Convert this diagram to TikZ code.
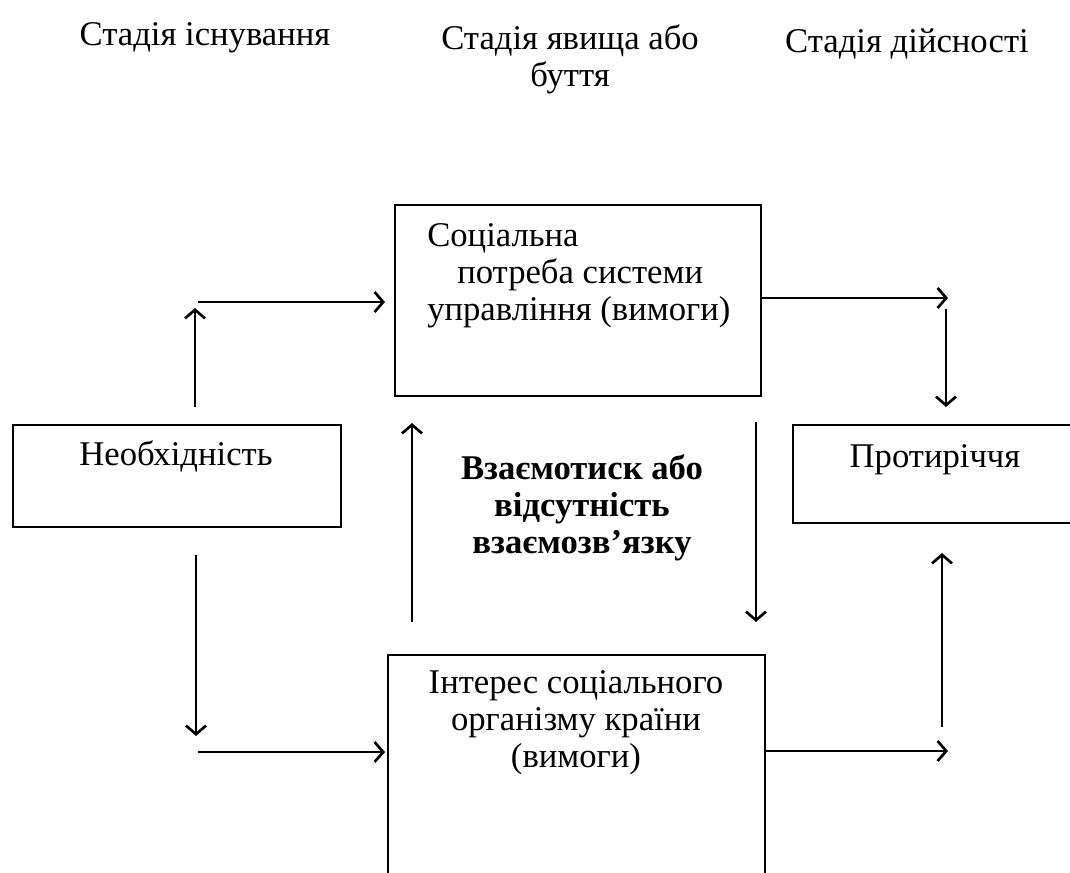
\documentclass[tikz,border=0pt]{standalone}
\usepackage{fontspec}
\setmainfont{Liberation Serif}
\usetikzlibrary{arrows.meta}
\begin{document}
\begin{tikzpicture}[x=0.75pt,y=-0.75pt,
  box/.style={draw,line width=1.1pt,inner sep=0pt},
  txt/.style={inner sep=0pt,font=\fontsize{26}{27.75}\selectfont},
  arr/.style={line width=2pt,-{Straight Barb[length=6.5pt,width=15pt,line width=2pt]}}]
\useasboundingbox (0,0) rectangle (1070,872);
\clip (0,0) rectangle (1070,872);
% boxes
\node[box,minimum width=274.5pt,minimum height=143.25pt] (need) at (578,300.5) {};
\node[box,minimum width=246pt,minimum height=76.5pt] (nec) at (177,476) {};
\node[box,minimum width=230.25pt,minimum height=73.5pt] (prot) at (946.5,474) {};
\node[box,minimum width=282.75pt,minimum height=221.25pt] (inter) at (576.5,802.5) {};
% texts (base anchor = baseline of the last line)
\node[txt,anchor=base] (t1) at (205,45) {Стадія існування};
\node[txt,anchor=base,align=center] (t2) at (570,86) {Стадія явища або\\буття};
\node[txt,anchor=base] (t3) at (907,52) {Стадія дійсності};
\node[txt,anchor=base west,align=left] (needtxt) at (427,320) {Соціальна\\\hspace*{22.5pt}потреба системи\\управління (вимоги)};
\node[txt,anchor=base] (nectxt) at (176,465) {Необхідність};
\node[txt,anchor=base] (prottxt) at (935,467) {Протиріччя};
\node[txt,anchor=base,align=center] (intertxt) at (576,767) {Інтерес соціального\\організму країни\\(вимоги)};
\node[txt,anchor=base,align=center,font=\fontsize{26}{27.75}\selectfont\bfseries] (mid) at (582,553) {Взаємотиск або\\відсутність\\взаємозв’язку};
% arrow end points
\coordinate (a1s) at (195,407); \coordinate (a1e) at (195,308);
\coordinate (a2s) at (198,302); \coordinate (a2e) at (385,302);
\coordinate (a3s) at (762,298); \coordinate (a3e) at (948,298);
\coordinate (a4s) at (946,309); \coordinate (a4e) at (946,407);
\coordinate (a5s) at (412,622); \coordinate (a5e) at (412,423);
\coordinate (a6s) at (756,422); \coordinate (a6e) at (756,622);
\coordinate (a7s) at (196,555); \coordinate (a7e) at (196,736);
\coordinate (a8s) at (198,752); \coordinate (a8e) at (385,752);
\coordinate (a9s) at (765,751); \coordinate (a9e) at (948,751);
\coordinate (a10s) at (942,727); \coordinate (a10e) at (942,553);
\foreach \i in {1,...,10} \draw[arr] (a\i s) -- (a\i e);
\end{tikzpicture}
\end{document}
